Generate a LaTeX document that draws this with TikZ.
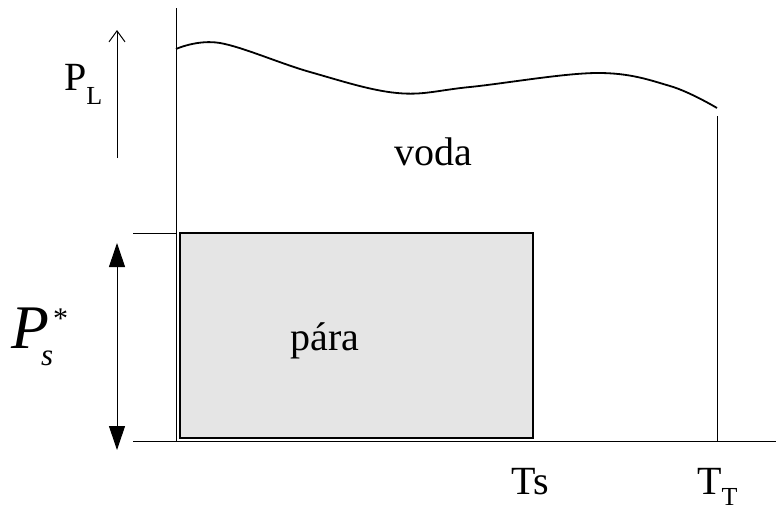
\documentclass[tikz,border=0pt]{standalone}
\usepackage{fontspec}
\setmainfont{Liberation Serif}
\usetikzlibrary{arrows.meta}
\tikzset{
  axis/.style={draw, line width=1pt},
  curve/.style={draw, line width=1.8pt},
  parabox/.style={draw, line width=1.6pt, fill=black!10},
  label/.style={inner sep=0pt, anchor=base, font=\fontsize{40}{48}\selectfont},
  openarrow/.style={-{Straight Barb[length=11pt, width=16pt, line width=1pt]}, line width=1pt},
  fillarrow/.style={{Triangle[length=24pt, width=16pt]}-{Triangle[length=24pt, width=16pt]}, line width=1pt}
}

\begin{document}
\begin{tikzpicture}[x=1pt, y=-1pt]
\useasboundingbox (0,0) rectangle (776,509);
% axes
\coordinate (ytop) at (176,8);
\coordinate (origin) at (176,441);
\coordinate (xleft) at (133,441);
\coordinate (xright) at (776,441);
\coordinate (tickl) at (133,233);
\coordinate (tickr) at (176,233);
\coordinate (ttop) at (717,116);
\coordinate (tbot) at (717,441);
\draw[axis] (ytop) -- (origin);
\draw[axis] (xleft) -- (xright);
\draw[axis] (tickl) -- (tickr);
\draw[axis] (ttop) -- (tbot);

% liquid surface
\draw[curve] plot[smooth, tension=0.6] coordinates {(176,49) (220,43) (310,72) (397,93) (470,87) (597,73) (670,86) (717,108)};

% vapour box
\draw[parabox] (180,233) rectangle (533,438);

% labels
\node[label] (voda) at (433,165) {voda};
\node[label] (para) at (325,350) {pára};
\node[label] (ts) at (530,494) {Ts};
\node[label, anchor=base west] (tt) at (697,494) {T\raisebox{-11pt}{\fontsize{26}{26}\selectfont T}};
\node[label, anchor=base west] (pl) at (64,90) {P\raisebox{-14pt}{\fontsize{26}{26}\selectfont L}};
\node[inner sep=0pt, anchor=base west] (ps) at (11,348)
  {\fontsize{62}{62}\selectfont\itshape P\kern-8pt\rlap{\raisebox{-17pt}{\fontsize{31}{31}\selectfont s}}\kern12pt\raisebox{20pt}{\fontsize{30}{30}\selectfont\upshape *}};

% arrows
\coordinate (pla) at (117,158);
\coordinate (plb) at (117,30);
\coordinate (psa) at (117,243);
\coordinate (psb) at (117,450);
\draw[openarrow] (pla) -- (plb);
\draw[fillarrow] (psa) -- (psb);
\end{tikzpicture}
\end{document}
